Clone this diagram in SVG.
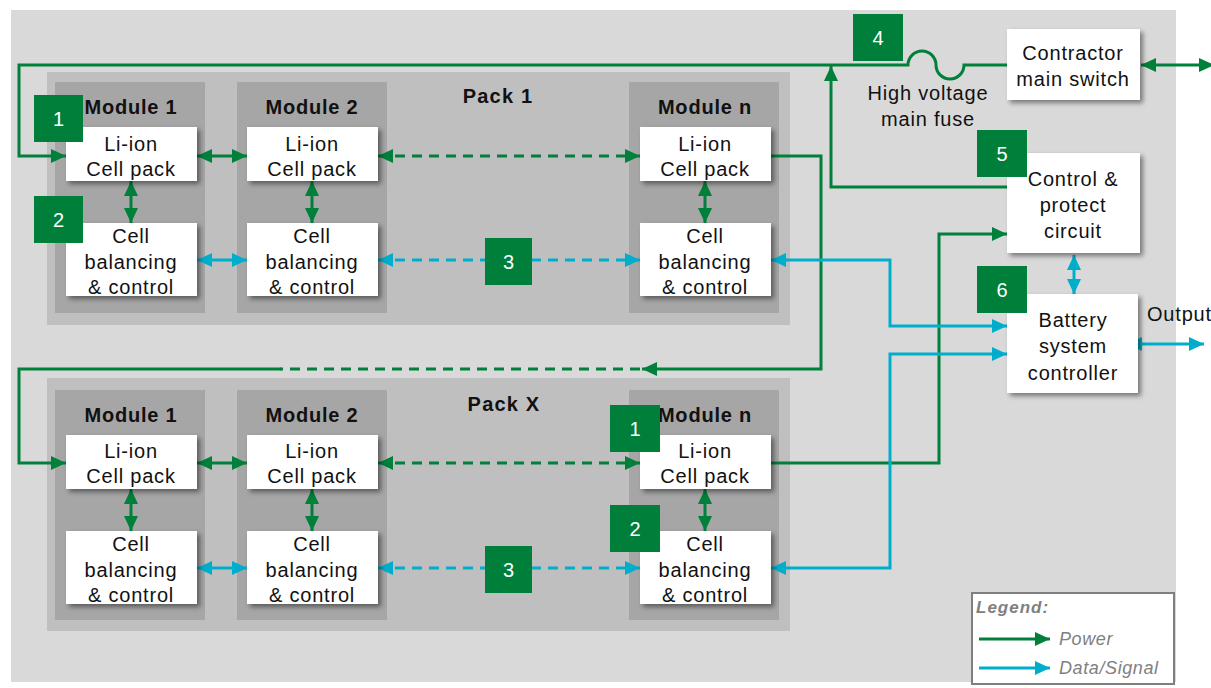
<svg xmlns="http://www.w3.org/2000/svg" width="1211" height="688" viewBox="0 0 1211 688">
<style>
.t{font-family:"Liberation Sans",Arial,sans-serif;font-size:20px;text-anchor:middle;fill:#111;letter-spacing:0.8px}
.b{font-family:"Liberation Sans",Arial,sans-serif;font-size:20px;font-weight:bold;text-anchor:middle;fill:#111;letter-spacing:0.8px}
.n{font-family:"Liberation Sans",Arial,sans-serif;font-size:20px;text-anchor:middle;fill:#fff}
.lg{font-family:"Liberation Sans",Arial,sans-serif;font-size:18px;font-style:italic;fill:#808080;letter-spacing:0.6px}
.box{fill:#fff;filter:url(#sh)}
.badge{fill:#007f3b}
.pack{fill:#bfbfbf}
.mod{fill:#a6a6a6}
.pw{fill:none;stroke:#00803a;stroke-width:3}
.dt{fill:none;stroke:#00aecb;stroke-width:3}
.pwa{marker-start:url(#ga);marker-end:url(#ga)}
.dta{marker-start:url(#ca);marker-end:url(#ca)}
.dash{stroke-dasharray:10 7}
</style>
<defs>
<filter id="sh" x="-10%" y="-10%" width="130%" height="140%">
<feDropShadow dx="3" dy="3" stdDeviation="2.5" flood-color="#000" flood-opacity="0.45"/>
</filter>
<marker id="ga" markerUnits="userSpaceOnUse" markerWidth="15" markerHeight="14" refX="15" refY="7" orient="auto-start-reverse">
<path d="M0,0 L15,7 L0,14 z" fill="#00803a"/>
</marker>
<marker id="ca" markerUnits="userSpaceOnUse" markerWidth="15" markerHeight="14" refX="15" refY="7" orient="auto-start-reverse">
<path d="M0,0 L15,7 L0,14 z" fill="#00aecb"/>
</marker>
</defs>
<rect x="0" y="0" width="1211" height="688" fill="#fff"/>
<rect x="11" y="10" width="1165" height="672" fill="#d9d9d9"/>

<g id="pack1">
<rect class="pack" x="47" y="72" width="743" height="253"/>
<text class="b" x="498" y="103" style="letter-spacing:1.2px">Pack 1</text>
</g>
<g id="pack1-module1"><rect class="mod" x="55" y="82" width="150" height="231"/><text class="b" x="131" y="114">Module 1</text></g>
<g id="pack1-module2"><rect class="mod" x="237" y="82" width="150" height="231"/><text class="b" x="312" y="114">Module 2</text></g>
<g id="pack1-modulen"><rect class="mod" x="629" y="82" width="150" height="231"/><text class="b" x="705" y="114">Module n</text></g>

<g id="packx">
<rect class="pack" x="47" y="378" width="743" height="253"/>
<text class="b" x="504" y="411" style="letter-spacing:1.2px">Pack X</text>
</g>
<g id="packx-module1"><rect class="mod" x="55" y="390" width="150" height="230"/><text class="b" x="131" y="422">Module 1</text></g>
<g id="packx-module2"><rect class="mod" x="237" y="390" width="150" height="230"/><text class="b" x="312" y="422">Module 2</text></g>
<g id="packx-modulen"><rect class="mod" x="629" y="390" width="150" height="230"/><text class="b" x="705" y="422">Module n</text></g>

<g id="connectors">
<path class="pw" d="M1007,65 L964,65 A14,14 0 0,1 936,65 A14,14 0 0,0 908,65 L19,65 L19,156 L66,156" marker-end="url(#ga)"/>
<path class="pw" d="M1007,187 L831,187 L831,66" marker-end="url(#ga)"/>
<path class="pw pwa" d="M1141,65 L1214,65"/>
<path class="pw pwa" d="M197,156 L247,156"/>
<path class="pw pwa dash" d="M378,156 L640,156"/>
<path class="pw pwa" d="M131,181 L131,223"/>
<path class="pw pwa" d="M312,181 L312,223"/>
<path class="pw pwa" d="M705,181 L705,223"/>
<path class="pw" d="M771,156 L821,156 L821,369 L642,369" marker-end="url(#ga)"/>
<path class="pw dash" d="M640,369 L280,369"/>
<path class="pw" d="M281,369 L19,369 L19,463 L66,463" marker-end="url(#ga)"/>
<path class="pw pwa" d="M197,463 L247,463"/>
<path class="pw pwa dash" d="M378,463 L640,463"/>
<path class="pw pwa" d="M131,489 L131,531"/>
<path class="pw pwa" d="M312,489 L312,531"/>
<path class="pw pwa" d="M705,489 L705,531"/>
<path class="pw" d="M771,463 L939,463 L939,234 L1007,234" marker-end="url(#ga)"/>
<path class="dt dta" d="M197,260 L247,260"/>
<path class="dt dta dash" d="M378,260 L640,260"/>
<path class="dt dta" d="M771,260 L890,260 L890,326 L1007,326"/>
<path class="dt dta" d="M197,568 L247,568"/>
<path class="dt dta dash" d="M378,568 L640,568"/>
<path class="dt dta" d="M771,568 L890,568 L890,354 L1007,354"/>
<path class="dt dta" d="M1074,255 L1074,294"/>
<path class="dt dta" d="M1127,344 L1204,344"/>
</g>

<g id="p1m1-cell"><rect class="box" x="66" y="127" width="131" height="54"/><text class="t" x="131" y="151">Li-ion</text><text class="t" x="131" y="176">Cell pack</text></g>
<g id="p1m2-cell"><rect class="box" x="247" y="127" width="131" height="54"/><text class="t" x="312" y="151">Li-ion</text><text class="t" x="312" y="176">Cell pack</text></g>
<g id="p1mn-cell"><rect class="box" x="640" y="127" width="131" height="54"/><text class="t" x="705" y="151">Li-ion</text><text class="t" x="705" y="176">Cell pack</text></g>
<g id="p1m1-bal"><rect class="box" x="66" y="223" width="131" height="73"/><text class="t" x="131" y="243">Cell</text><text class="t" x="131" y="269">balancing</text><text class="t" x="131" y="294">&amp; control</text></g>
<g id="p1m2-bal"><rect class="box" x="247" y="223" width="131" height="73"/><text class="t" x="312" y="243">Cell</text><text class="t" x="312" y="269">balancing</text><text class="t" x="312" y="294">&amp; control</text></g>
<g id="p1mn-bal"><rect class="box" x="640" y="223" width="131" height="73"/><text class="t" x="705" y="243">Cell</text><text class="t" x="705" y="269">balancing</text><text class="t" x="705" y="294">&amp; control</text></g>

<g id="pxm1-cell"><rect class="box" x="66" y="435" width="131" height="54"/><text class="t" x="131" y="458">Li-ion</text><text class="t" x="131" y="483">Cell pack</text></g>
<g id="pxm2-cell"><rect class="box" x="247" y="435" width="131" height="54"/><text class="t" x="312" y="458">Li-ion</text><text class="t" x="312" y="483">Cell pack</text></g>
<g id="pxmn-cell"><rect class="box" x="640" y="435" width="131" height="54"/><text class="t" x="705" y="458">Li-ion</text><text class="t" x="705" y="483">Cell pack</text></g>
<g id="pxm1-bal"><rect class="box" x="66" y="531" width="131" height="73"/><text class="t" x="131" y="551">Cell</text><text class="t" x="131" y="577">balancing</text><text class="t" x="131" y="602">&amp; control</text></g>
<g id="pxm2-bal"><rect class="box" x="247" y="531" width="131" height="73"/><text class="t" x="312" y="551">Cell</text><text class="t" x="312" y="577">balancing</text><text class="t" x="312" y="602">&amp; control</text></g>
<g id="pxmn-bal"><rect class="box" x="640" y="531" width="131" height="73"/><text class="t" x="705" y="551">Cell</text><text class="t" x="705" y="577">balancing</text><text class="t" x="705" y="602">&amp; control</text></g>

<g id="contractor"><rect class="box" x="1007" y="29" width="133" height="71"/><text class="t" x="1073" y="60">Contractor</text><text class="t" x="1073" y="86">main switch</text></g>
<g id="fuse-label"><text class="t" x="928" y="100">High voltage</text><text class="t" x="928" y="126">main fuse</text></g>
<g id="control"><rect class="box" x="1007" y="153" width="133" height="100"/><text class="t" x="1073" y="186">Control &amp;</text><text class="t" x="1073" y="212">protect</text><text class="t" x="1073" y="238">circuit</text></g>
<g id="bsc"><rect class="box" x="1007" y="294" width="131" height="99"/><text class="t" x="1073" y="327">Battery</text><text class="t" x="1073" y="353">system</text><text class="t" x="1073" y="380">controller</text></g>
<g id="output-label"><text class="t" x="1147" y="321" style="text-anchor:start">Output</text></g>

<g id="badges">
<rect class="badge" x="34" y="95" width="49" height="47"/><text class="n" x="58.5" y="126">1</text>
<rect class="badge" x="34" y="196" width="49" height="47"/><text class="n" x="58.5" y="227">2</text>
<rect class="badge" x="485" y="238" width="47" height="47"/><text class="n" x="508.5" y="269">3</text>
<rect class="badge" x="853" y="14" width="50" height="47"/><text class="n" x="878" y="45">4</text>
<rect class="badge" x="977" y="130" width="50" height="47"/><text class="n" x="1002" y="161">5</text>
<rect class="badge" x="977" y="266" width="50" height="47"/><text class="n" x="1002" y="297">6</text>
<rect class="badge" x="610" y="405" width="50" height="47"/><text class="n" x="635" y="436">1</text>
<rect class="badge" x="610" y="505" width="50" height="47"/><text class="n" x="635" y="536">2</text>
<rect class="badge" x="485" y="546" width="47" height="47"/><text class="n" x="508.5" y="577">3</text>
</g>

<g id="legend">
<rect x="972" y="593" width="202" height="91" fill="#fff" stroke="#7f7f7f" stroke-width="2"/>
<text class="lg" x="976" y="613" style="font-weight:bold;font-size:17px;letter-spacing:1px">Legend:</text>
<path class="pw" d="M979,639 L1050,639" marker-end="url(#ga)"/>
<text class="lg" x="1059" y="645">Power</text>
<path class="dt" d="M979,668 L1050,668" marker-end="url(#ca)"/>
<text class="lg" x="1059" y="674">Data/Signal</text>
</g>
</svg>
